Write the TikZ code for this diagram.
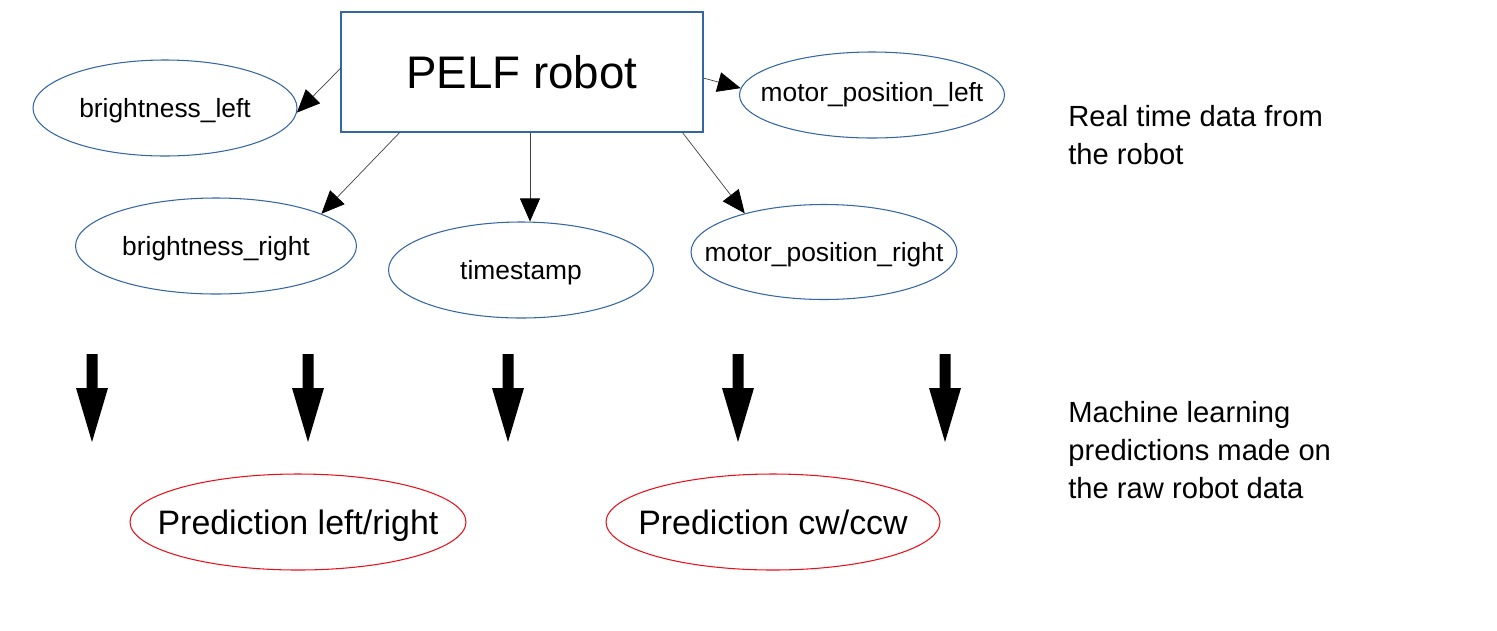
\documentclass[tikz,border=0pt]{standalone}
\usepackage{fontspec}
\setmainfont{Liberation Sans}
\usetikzlibrary{shapes.geometric,arrows.meta,calc}
\definecolor{lblue}{HTML}{3465A4}
\definecolor{lred}{HTML}{E8101A}
\tikzset{
  field/.style={ellipse, draw=lblue, line width=0.6pt, inner sep=0pt, text depth=0pt, font=\fontsize{15}{18}\selectfont},
  pred/.style={ellipse, draw=lred, line width=0.6pt, inner sep=0pt, text depth=0pt, minimum width=336*0.02cm, minimum height=96*0.02cm, font=\fontsize{19.3}{23}\selectfont},
  link/.style={line width=0.4pt, draw=black!75, -{Triangle[length=0.46cm,width=0.4cm,color=black]}},
  note/.style={anchor=west, align=left, inner sep=0pt, font=\fontsize{16.6}{21.5}\selectfont},
  fatarrow/.pic={\fill[black] (-5.5,0) -- (5.5,0) -- (5.5,34) -- (16,34) -- (0,88) -- (-16,34) -- (-5.5,34) -- cycle;}
}
\begin{document}
\begin{tikzpicture}[x=0.02cm,y=-0.02cm]
\useasboundingbox (0,0) rectangle (1497,630);
\node[draw=lblue, line width=0.6pt, minimum width=362*0.02cm, minimum height=120*0.02cm, inner sep=0pt, font=\fontsize{26}{30}\selectfont] (pelf) at (522,72) {PELF robot};
\node[field, minimum width=264*0.02cm, minimum height=96*0.02cm] (bl) at (165,108) {\makebox[0pt]{brightness\_left}};
\node[field, text depth=, minimum width=265*0.02cm, minimum height=86*0.02cm] (mpl) at (872,95) {\makebox[0pt]{motor\_position\_left}};
\node[field, minimum width=281*0.02cm, minimum height=96*0.02cm] (br) at (216,246) {\makebox[0pt]{brightness\_right}};
\node[field, minimum width=265*0.02cm, minimum height=96*0.02cm] (ts) at (521,270) {\makebox[0pt]{timestamp}};
\node[field, minimum width=266*0.02cm, minimum height=95*0.02cm] (mpr) at (824,252) {\makebox[0pt]{motor\_position\_right}};
\node[pred] (plr) at (298,522) {\makebox[0pt]{Prediction left/right}};
\node[pred, minimum width=334*0.02cm] (pcw) at (773,522) {\makebox[0pt]{Prediction cw/ccw}};
\node[note] (n1) at (1068,135) {Real time data from\\the robot};
\node[note] (n2) at (1068,450) {Machine learning\\predictions made on\\the raw robot data};
\coordinate (s1) at ($(pelf.north west)!0.47!(pelf.south west)$);
\coordinate (s2) at ($(pelf.north east)!0.55!(pelf.south east)$);
\coordinate (s3) at ($(pelf.south west)!0.163!(pelf.south east)$);
\coordinate (s4) at ($(pelf.south west)!0.522!(pelf.south east)$);
\coordinate (s5) at ($(pelf.south west)!0.942!(pelf.south east)$);
\draw[link] (s1) -- (bl.-2);
\draw[link] (s2) -- (mpl.177);
\draw[link] (s3) -- (br.17);
\draw[link] (s4) -- (s4 |- ts.north);
\draw[link] (s5) -- (mpr.154);
\foreach \x in {92,308,508,738,945} \pic at (\x,354) {fatarrow};
\end{tikzpicture}
\end{document}
